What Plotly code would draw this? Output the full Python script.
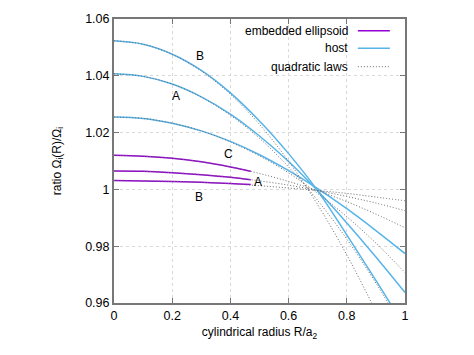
import plotly.graph_objects as go

# ---- data ----
x_host = [0.0, 0.1, 0.2, 0.3, 0.4, 0.5, 0.6, 0.7, 0.8, 0.9, 1.0]
x_ell = [0.0, 0.1, 0.2, 0.3, 0.4, 0.47]

host_B = [1.0523, 1.0511, 1.0476, 1.0419, 1.0340, 1.0241, 1.0126, 0.9995, 0.9840, 0.9680, 0.9515]
host_A = [1.0407, 1.0398, 1.0371, 1.0326, 1.0265, 1.0188, 1.0098, 0.9995, 0.9882, 0.9762, 0.9637]
host_C = [1.0255, 1.0250, 1.0233, 1.0206, 1.0169, 1.0122, 1.0066, 1.0003, 0.9932, 0.9855, 0.9774]

ell_C = [1.0120, 1.0117, 1.0110, 1.0097, 1.0079, 1.0064]
ell_A = [1.0065, 1.0064, 1.0059, 1.0052, 1.0043, 1.0034]
ell_B = [1.0031, 1.0030, 1.0028, 1.0025, 1.0021, 1.0017]

quad_host_B = [1.0523, 1.0511, 1.0476, 1.0417, 1.0335, 1.0229, 1.0099, 0.9946, 0.9769, 0.9569, 0.9345]
quad_host_A = [1.0407, 1.0398, 1.0371, 1.0325, 1.0261, 1.0180, 1.0079, 0.9961, 0.9825, 0.9670, 0.9497]
quad_host_C = [1.0255, 1.0250, 1.0233, 1.0206, 1.0167, 1.0118, 1.0058, 0.9986, 0.9904, 0.9811, 0.9707]
quad_ell_C = [1.0120, 1.0117, 1.0110, 1.0097, 1.0079, 1.0056, 1.0028, 0.9995, 0.9957, 0.9913, 0.9865]
quad_ell_A = [1.0065, 1.0064, 1.0059, 1.0052, 1.0043, 1.0030, 1.0015, 0.9996, 0.9975, 0.9952, 0.9925]
quad_ell_B = [1.0031, 1.0030, 1.0028, 1.0025, 1.0020, 1.0013, 1.0005, 0.9996, 0.9986, 0.9973, 0.9960]

x_ticks = [0, 0.2, 0.4, 0.6, 0.8, 1.0]
x_ticklabels = ["0", "0.2", "0.4", "0.6", "0.8", "1"]
y_ticks = [0.96, 0.98, 1.0, 1.02, 1.04, 1.06]
y_ticklabels = ["0.96", "0.98", "1", "1.02", "1.04", "1.06"]

legend_labels = ["embedded ellipsoid", "host", "quadratic laws"]

PURPLE = "#9400d3"
BLUE = "#56b4e9"
DOT = "#6a6a6a"
FONT = "Liberation Sans, Arial, sans-serif"

fig = go.Figure()
for ys in [ell_C, ell_A, ell_B]:
    fig.add_trace(go.Scatter(x=x_ell, y=ys, mode="lines", showlegend=False,
                             line=dict(color=PURPLE, width=1.5, shape="spline")))
for ys in [host_B, host_A, host_C]:
    fig.add_trace(go.Scatter(x=x_host, y=ys, mode="lines", showlegend=False,
                             line=dict(color=BLUE, width=1.5, shape="spline")))
for ys in [quad_host_B, quad_host_A, quad_host_C, quad_ell_C, quad_ell_A, quad_ell_B]:
    fig.add_trace(go.Scatter(x=x_host, y=ys, mode="lines", showlegend=False,
                             line=dict(color=DOT, width=1, dash="1px,2px", shape="spline")))

axis_common = dict(showline=True, linecolor="#777777", linewidth=2, mirror="ticks",
                   ticks="inside", ticklen=5, tickcolor="#777777", tickwidth=1,
                   showgrid=True, gridcolor="#d9d9d9", griddash="3px,3px", gridwidth=1,
                   zeroline=False, ticklabeloverflow="allow",
                   tickfont=dict(family=FONT, size=12.5, color="#000000"))

# the page body adds an 8px offset; the figure is sized so the plot box lands where the reference has it
fig.update_layout(
    width=466, height=347,
    margin=dict(l=106, r=69, t=4, b=52),
    paper_bgcolor="white", plot_bgcolor="white",
    font=dict(family=FONT, size=12, color="#000000"),
    xaxis=dict(range=[0, 1], tickvals=x_ticks, ticktext=x_ticklabels,
               title=dict(text="cylindrical radius R/a<sub>2</sub>", standoff=6,
                          font=dict(family=FONT, size=12)),
               **axis_common),
    yaxis=dict(range=[0.96, 1.06], tickvals=y_ticks, ticktext=y_ticklabels,
               title=dict(text="ratio Ω<sub>i</sub>(R)/Ω<sub>i</sub>", standoff=21,
                          font=dict(family=FONT, size=12)),
               **axis_common),
    showlegend=False,
)

# opaque key background
fig.add_shape(type="rect", xref="paper", yref="paper", x0=0.433, x1=0.99, y0=0.808, y1=0.975,
              fillcolor="white", line=dict(width=0), layer="between")

legend_styles = [dict(color=PURPLE, width=1.5), dict(color=BLUE, width=1.5),
                 dict(color=DOT, width=1, dash="1px,2px")]
legend_rows = [0.959, 0.897, 0.832]
for lab, sty, yy in zip(legend_labels, legend_styles, legend_rows):
    fig.add_annotation(x=0.811, y=yy, xref="paper", yref="paper", text=lab, showarrow=False,
                       xanchor="right", yanchor="middle", font=dict(family=FONT, size=12))
    fig.add_shape(type="line", xref="paper", yref="paper", x0=0.838, x1=0.948, y0=yy, y1=yy,
                  line=sty, layer="above")

# curve labels
for tx, lx, ly in [("B", 0.2955, 1.0469), ("A", 0.212, 1.033), ("C", 0.393, 1.0123),
                   ("A", 0.494, 1.0026), ("B", 0.293, 0.9975)]:
    fig.add_annotation(x=lx, y=ly, text=tx, showarrow=False, xanchor="center", yanchor="middle",
                       font=dict(family=FONT, size=12))

fig.write_html("out.html", config={"displayModeBar": False})
